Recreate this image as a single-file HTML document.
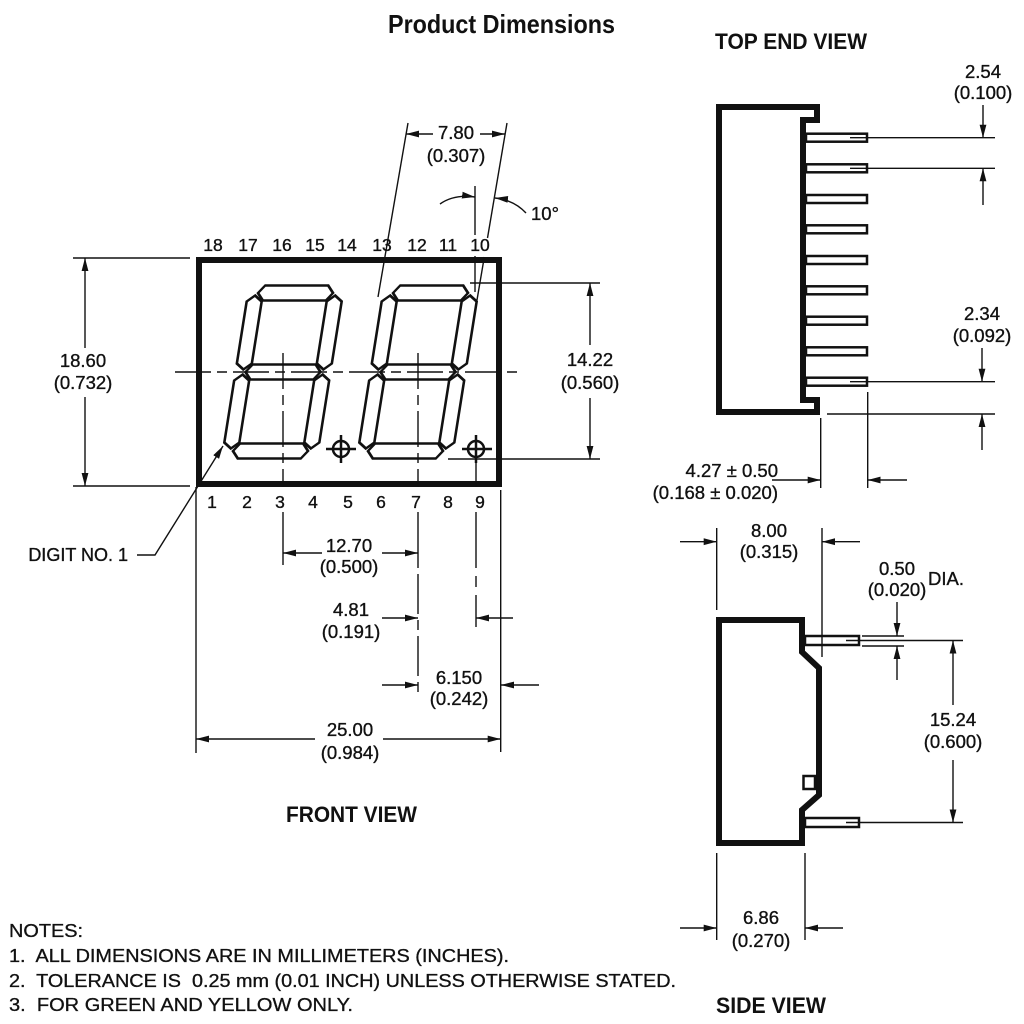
<!DOCTYPE html>
<html><head><meta charset="utf-8">
<style>
html,body{margin:0;padding:0;background:#fff;}
svg{display:block;}
text{font-family:"Liberation Sans",Arial,sans-serif;fill:#111;}
.d{font-size:18.5px;text-anchor:middle;stroke:#111;stroke-width:0.35px;}
.p{font-size:17.5px;text-anchor:middle;stroke:#111;stroke-width:0.35px;}
.n{font-size:18px;white-space:pre;stroke:#111;stroke-width:0.3px;}
.b{font-weight:bold;}
.s{stroke:#111;stroke-width:0.35px;}
</style></head><body>
<svg width="1024" height="1024" viewBox="0 0 1024 1024" xmlns="http://www.w3.org/2000/svg">
<defs>
<marker id="a" viewBox="0 0 13 8" refX="13" refY="4" markerWidth="13" markerHeight="8" markerUnits="userSpaceOnUse" orient="auto"><path d="M0,0.6 L13,4 L0,7.4 z" fill="#111"/></marker>
</defs>
<rect width="1024" height="1024" fill="#fff"/>

<!-- Titles -->
<text x="388" y="33" class="b" style="font-family:'Liberation Sans Narrow','Liberation Sans',sans-serif;font-size:26px" textLength="227" lengthAdjust="spacingAndGlyphs">Product Dimensions</text>
<text x="715" y="49" class="b" style="font-size:22px" textLength="152" lengthAdjust="spacingAndGlyphs">TOP END VIEW</text>
<text x="286" y="822" class="b" style="font-size:22px" textLength="131" lengthAdjust="spacingAndGlyphs">FRONT VIEW</text>
<text x="716" y="1013" class="b" style="font-size:22px" textLength="110" lengthAdjust="spacingAndGlyphs">SIDE VIEW</text>

<!-- ============ FRONT VIEW ============ -->
<rect x="199" y="260" width="300" height="224" fill="none" stroke="#111" stroke-width="6"/>

<g transform="translate(283,372) skewX(-9)" fill="none" stroke="#111" stroke-width="2.6">
<polygon points="-37.5,-79 -31.5,-86.5 31.5,-86.5 37.5,-79 31.5,-71.5 -31.5,-71.5"/>
<polygon points="-37.5,0 -31.5,-7.5 31.5,-7.5 37.5,0 31.5,7.5 -31.5,7.5"/>
<polygon points="-37.5,79 -31.5,71.5 31.5,71.5 37.5,79 31.5,86.5 -31.5,86.5"/>
<polygon points="-40,-76.5 -32.5,-70.5 -32.5,-8.5 -40,-2.5 -47.5,-8.5 -47.5,-70.5"/>
<polygon points="40,-76.5 47.5,-70.5 47.5,-8.5 40,-2.5 32.5,-8.5 32.5,-70.5"/>
<polygon points="-40,2.5 -32.5,8.5 -32.5,70.5 -40,76.5 -47.5,70.5 -47.5,8.5"/>
<polygon points="40,2.5 47.5,8.5 47.5,70.5 40,76.5 32.5,70.5 32.5,8.5"/>
</g>
<g transform="translate(418,372) skewX(-9)" fill="none" stroke="#111" stroke-width="2.6">
<polygon points="-37.5,-79 -31.5,-86.5 31.5,-86.5 37.5,-79 31.5,-71.5 -31.5,-71.5"/>
<polygon points="-37.5,0 -31.5,-7.5 31.5,-7.5 37.5,0 31.5,7.5 -31.5,7.5"/>
<polygon points="-37.5,79 -31.5,71.5 31.5,71.5 37.5,79 31.5,86.5 -31.5,86.5"/>
<polygon points="-40,-76.5 -32.5,-70.5 -32.5,-8.5 -40,-2.5 -47.5,-8.5 -47.5,-70.5"/>
<polygon points="40,-76.5 47.5,-70.5 47.5,-8.5 40,-2.5 32.5,-8.5 32.5,-70.5"/>
<polygon points="-40,2.5 -32.5,8.5 -32.5,70.5 -40,76.5 -47.5,70.5 -47.5,8.5"/>
<polygon points="40,2.5 47.5,8.5 47.5,70.5 40,76.5 32.5,70.5 32.5,8.5"/>
</g>

<!-- decimal points -->
<g fill="none" stroke="#111" stroke-width="2.5">
<circle cx="341" cy="449" r="8"/>
<line x1="326" y1="449" x2="356" y2="449"/>
<line x1="341" y1="435" x2="341" y2="463"/>
<circle cx="476" cy="449" r="8"/>
<line x1="462" y1="449" x2="492" y2="449"/>
<line x1="476" y1="435" x2="476" y2="463"/>
</g>

<!-- thin lines -->
<g stroke="#111" stroke-width="1.4" fill="none">
<line x1="175" y1="372" x2="522" y2="372" stroke-dasharray="36 6 10 6"/>
<line x1="283" y1="353" x2="283" y2="487" stroke-dasharray="36 6 10 6"/>
<line x1="283" y1="512" x2="283" y2="565"/>
<line x1="418" y1="353" x2="418" y2="487" stroke-dasharray="36 6 10 6"/>
<line x1="418" y1="512" x2="418" y2="568"/>
<line x1="418" y1="574" x2="418" y2="697" stroke-dasharray="40 6 10 6"/>
<line x1="476" y1="463" x2="476" y2="487"/>
<line x1="476" y1="512" x2="476" y2="568"/>
<line x1="476" y1="576" x2="476" y2="587"/>
<line x1="476" y1="595" x2="476" y2="627"/>

<line x1="408" y1="123" x2="378" y2="297"/>
<line x1="507" y1="123" x2="487.5" y2="238"/>
<line x1="484.3" y1="257" x2="477" y2="300"/>
<line x1="475" y1="186" x2="475" y2="235"/>
<line x1="475" y1="256" x2="475" y2="292"/>

<line x1="73" y1="258" x2="190" y2="258"/>
<line x1="73" y1="486" x2="190" y2="486"/>
<line x1="470" y1="283" x2="600" y2="283"/>
<line x1="448" y1="459" x2="600" y2="459"/>
<line x1="196" y1="487" x2="196" y2="753"/>
<line x1="500.7" y1="490" x2="500.7" y2="752"/>
</g>

<!-- arrows front -->
<g stroke="#111" stroke-width="1.4" fill="none" marker-end="url(#a)">
<line x1="433" y1="134" x2="406" y2="134"/>
<line x1="480" y1="134" x2="505" y2="134"/>
<path d="M440,204 Q454,194 475,197"/>
<path d="M526,213 Q514,200 495,198"/>
<line x1="85" y1="348" x2="85" y2="258"/>
<line x1="85" y1="397" x2="85" y2="486"/>
<line x1="590" y1="345" x2="590" y2="283"/>
<line x1="590" y1="398" x2="590" y2="459"/>
<polyline points="137,555 155,555 223,446"/>
<line x1="322" y1="553" x2="283" y2="553"/>
<line x1="382" y1="553" x2="418" y2="553"/>
<line x1="382" y1="618" x2="418" y2="618"/>
<line x1="513" y1="618" x2="476" y2="618"/>
<line x1="382" y1="685" x2="418" y2="685"/>
<line x1="539" y1="685" x2="501" y2="685"/>
<line x1="315" y1="739" x2="196" y2="739"/>
<line x1="383" y1="739" x2="500.7" y2="739"/>
</g>

<!-- pin numbers -->
<g class="p">
<text x="213" y="251">18</text><text x="248" y="251">17</text><text x="282" y="251">16</text>
<text x="315" y="251">15</text><text x="347" y="251">14</text><text x="382" y="251">13</text>
<text x="417" y="251">12</text><text x="448" y="251">11</text><text x="480" y="251">10</text>
<text x="212" y="508">1</text><text x="247" y="508">2</text><text x="280" y="508">3</text>
<text x="313" y="508">4</text><text x="348" y="508">5</text><text x="381" y="508">6</text>
<text x="416" y="508">7</text><text x="448" y="508">8</text><text x="480" y="508">9</text>
</g>

<!-- dimension texts front -->
<g class="d">
<text x="456" y="139">7.80</text><text x="456" y="162">(0.307)</text>
<text x="83" y="367">18.60</text><text x="83" y="389">(0.732)</text>
<text x="590" y="366">14.22</text><text x="590" y="389">(0.560)</text>
<text x="349" y="552">12.70</text><text x="349" y="573">(0.500)</text>
<text x="351" y="616">4.81</text><text x="351" y="638">(0.191)</text>
<text x="459" y="684">6.150</text><text x="459" y="705">(0.242)</text>
<text x="350" y="736">25.00</text><text x="350" y="759">(0.984)</text>
</g>
<text x="531" y="220" class="s" style="font-size:18.5px">10°</text>
<text x="128" y="561" class="s" style="font-size:18px;text-anchor:end">DIGIT NO. 1</text>

<!-- ============ TOP END VIEW ============ -->
<path d="M719,107 H817 V120 H803 V400 H817 V412 H719 Z" fill="none" stroke="#111" stroke-width="6"/>
<g fill="#fff" stroke="#111" stroke-width="2.5">
<rect x="806" y="133.7" width="61" height="8"/>
<rect x="806" y="164.3" width="61" height="8"/>
<rect x="806" y="195" width="61" height="8"/>
<rect x="806" y="225.3" width="61" height="8"/>
<rect x="806" y="256" width="61" height="8"/>
<rect x="806" y="286.3" width="61" height="8"/>
<rect x="806" y="316.7" width="61" height="8"/>
<rect x="806" y="347.3" width="61" height="8"/>
<rect x="806" y="377.7" width="61" height="8"/>
</g>
<g stroke="#111" stroke-width="1.4" fill="none">
<line x1="850" y1="137.7" x2="995" y2="137.7"/>
<line x1="850" y1="168.3" x2="995" y2="168.3"/>
<line x1="850" y1="381.7" x2="995" y2="381.7"/>
<line x1="827" y1="414" x2="995" y2="414"/>
<line x1="820.7" y1="418" x2="820.7" y2="488"/>
<line x1="867.7" y1="392" x2="867.7" y2="488"/>
</g>
<g stroke="#111" stroke-width="1.4" fill="none" marker-end="url(#a)">
<line x1="983" y1="105" x2="983" y2="137.7"/>
<line x1="983" y1="205" x2="983" y2="168.3"/>
<line x1="982" y1="348" x2="982" y2="381.7"/>
<line x1="982" y1="450" x2="982" y2="414"/>
<line x1="772" y1="480" x2="820.7" y2="480"/>
<line x1="907" y1="480" x2="867.7" y2="480"/>
</g>
<g class="d">
<text x="983" y="78">2.54</text><text x="983" y="99">(0.100)</text>
<text x="982" y="320">2.34</text><text x="982" y="342">(0.092)</text>
</g>
<text x="778" y="477" class="s" style="font-size:18.5px;text-anchor:end">4.27 ± 0.50</text>
<text x="778" y="499" class="s" style="font-size:18.5px;text-anchor:end">(0.168 ± 0.020)</text>

<!-- ============ SIDE VIEW ============ -->
<path d="M719,620 H802 V652 L819,668 V795 L802,810 V843 H719 Z" fill="none" stroke="#111" stroke-width="6"/>
<g fill="#fff" stroke="#111" stroke-width="2.5">
<rect x="803.5" y="776" width="11.5" height="13"/>
<rect x="805" y="636" width="54" height="9"/>
<rect x="805" y="818" width="54" height="9"/>
</g>
<g stroke="#111" stroke-width="1.4" fill="none">
<line x1="846" y1="640.5" x2="963" y2="640.5"/>
<line x1="846" y1="822.5" x2="963" y2="822.5"/>
<line x1="862" y1="636" x2="904" y2="636"/>
<line x1="862" y1="646" x2="904" y2="646"/>
<line x1="716.7" y1="528" x2="716.7" y2="610"/>
<line x1="822" y1="528" x2="822" y2="657"/>
<line x1="716.7" y1="853" x2="716.7" y2="940"/>
<line x1="805" y1="853" x2="805" y2="940"/>
</g>
<g stroke="#111" stroke-width="1.4" fill="none" marker-end="url(#a)">
<line x1="680" y1="541.7" x2="716.7" y2="541.7"/>
<line x1="860" y1="541.7" x2="822" y2="541.7"/>
<line x1="897" y1="602" x2="897" y2="636"/>
<line x1="897" y1="680" x2="897" y2="646"/>
<line x1="953" y1="705" x2="953" y2="640.5"/>
<line x1="953" y1="760" x2="953" y2="822.5"/>
<line x1="680" y1="928" x2="716.7" y2="928"/>
<line x1="843" y1="928" x2="805" y2="928"/>
</g>
<g class="d">
<text x="769" y="537">8.00</text><text x="769" y="558">(0.315)</text>
<text x="897" y="575">0.50</text><text x="897" y="596">(0.020)</text>
<text x="953" y="726">15.24</text><text x="953" y="748">(0.600)</text>
<text x="761" y="924">6.86</text><text x="761" y="947">(0.270)</text>
</g>
<text x="928" y="585" class="s" style="font-size:18.5px">DIA.</text>

<!-- ============ NOTES ============ -->
<text x="9" y="937" class="n" textLength="74" lengthAdjust="spacingAndGlyphs">NOTES:</text>
<text x="9" y="962" class="n" textLength="500" lengthAdjust="spacingAndGlyphs">1.  ALL DIMENSIONS ARE IN MILLIMETERS (INCHES).</text>
<text x="9" y="987" class="n" textLength="667" lengthAdjust="spacingAndGlyphs">2.  TOLERANCE IS  0.25 mm (0.01 INCH) UNLESS OTHERWISE STATED.</text>
<text x="9" y="1011" class="n" textLength="344" lengthAdjust="spacingAndGlyphs">3.  FOR GREEN AND YELLOW ONLY.</text>
</svg>
</body></html>
